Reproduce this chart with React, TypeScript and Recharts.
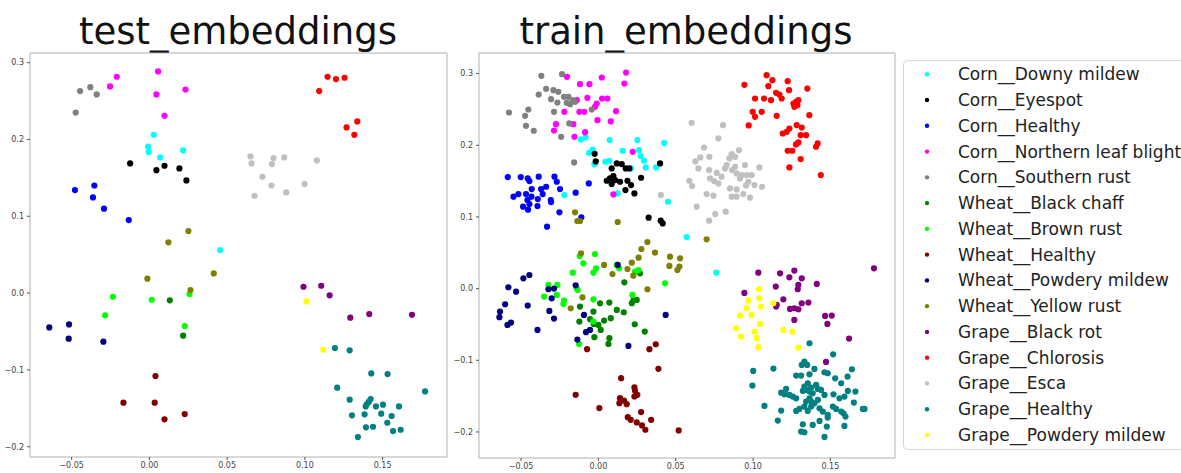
import React from 'react';
import { ScatterChart, Scatter, XAxis, YAxis, ReferenceArea } from 'recharts';

type Pt = [number, number];

const classNames = [
  'Corn__Downy mildew',
  'Corn__Eyespot',
  'Corn__Healthy',
  'Corn__Northern leaf blight',
  'Corn__Southern rust',
  'Wheat__Black chaff',
  'Wheat__Brown rust',
  'Wheat__Healthy',
  'Wheat__Powdery mildew',
  'Wheat__Yellow rust',
  'Grape__Black rot',
  'Grape__Chlorosis',
  'Grape__Esca',
  'Grape__Healthy',
  'Grape__Powdery mildew',
];

const classColors = [
  '#00ffff', '#000000', '#0000ff', '#ff00ff', '#808080',
  '#008000', '#00ff00', '#800000', '#000080', '#808000',
  '#800080', '#ff0000', '#c0c0c0', '#008080', '#ffff00',
];

const xTicks = [-0.05, 0, 0.05, 0.1, 0.15];
const yTicks = [-0.2, -0.1, 0, 0.1, 0.2, 0.3];

// ---- test embeddings ----
const testDowny: Pt[] = [[0.0028, 0.206], [-0.0009, 0.1905], [-0.0004, 0.1835], [0.0069, 0.1766], [0.0217, 0.1857], [0.0455, 0.056]];
const testEyespot: Pt[] = [[-0.0124, 0.1688], [0.0045, 0.16], [0.0097, 0.1657], [0.0193, 0.1623], [0.0238, 0.1466]];
const testCornHealthy: Pt[] = [[-0.0479, 0.134], [-0.0354, 0.14], [-0.0363, 0.1245], [-0.0292, 0.1098], [-0.0133, 0.095]];
const testBlight: Pt[] = [[-0.021, 0.2816], [-0.0253, 0.269], [0.0056, 0.2885], [0.0045, 0.2586], [0.0232, 0.265], [0.0097, 0.2308]];
const testSouthern: Pt[] = [[-0.0446, 0.263], [-0.038, 0.268], [-0.0339, 0.2586], [-0.0474, 0.235]];
const testChaff: Pt[] = [[0.0131, -0.0095], [0.0217, -0.0555]];
const testBrown: Pt[] = [[-0.0234, -0.0048], [-0.0285, -0.029], [0.0015, -0.0087], [0.0258, -0.0013], [0.0227, -0.043]];
const testWheatHealthy: Pt[] = [[0.0039, -0.108], [-0.0167, -0.1427], [0.0034, -0.1427], [0.0097, -0.1644], [0.0227, -0.1575]];
const testWheatPowdery: Pt[] = [[-0.0644, -0.0447], [-0.0517, -0.0408], [-0.0519, -0.0594], [-0.0296, -0.0633]];
const testYellowRust: Pt[] = [[0.0251, 0.0807], [0.0122, 0.066], [-0.0013, 0.0187], [0.0264, 0.0039], [0.0414, 0.0256]];
const testBlackRot: Pt[] = [[0.0991, 0.0082], [0.1105, 0.0095], [0.1159, -0.003], [0.1292, -0.0321], [0.1414, -0.0273], [0.1689, -0.0282]];
const testChlorosis: Pt[] = [[0.1092, 0.263], [0.1146, 0.2816], [0.12, 0.2785], [0.1255, 0.2803], [0.1268, 0.2156], [0.1337, 0.2234], [0.1318, 0.206]];
const testEsca: Pt[] = [[0.065, 0.1779], [0.0657, 0.1688], [0.0727, 0.1514], [0.0785, 0.14], [0.0788, 0.1679], [0.0798, 0.1757], [0.0867, 0.1766], [0.0676, 0.1267], [0.088, 0.131], [0.0998, 0.1419], [0.1077, 0.1727]];
const testGrapeHealthy: Pt[] = [[0.1193, -0.0716], [0.1288, -0.0746], [0.1427, -0.1046], [0.1532, -0.1054], [0.1208, -0.1232], [0.1773, -0.128], [0.1288, -0.1388], [0.1423, -0.138], [0.1412, -0.1414], [0.1399, -0.1445], [0.1391, -0.1475], [0.1457, -0.1475], [0.1502, -0.1453], [0.1605, -0.1475], [0.1303, -0.1592], [0.1384, -0.1579], [0.1491, -0.157], [0.1558, -0.16], [0.1393, -0.1748], [0.1438, -0.174], [0.153, -0.1688], [0.1567, -0.1796], [0.1616, -0.1779], [0.1341, -0.1874]];
const testGrapePowdery: Pt[] = [[0.1009, -0.0108], [0.1118, -0.0738]];

// ---- train embeddings ----
const trainDowny: Pt[] = [[-0.0114, 0.2081], [-0.0082, 0.2109], [0.0073, 0.2072], [0.0252, 0.2072], [0.0425, 0.203], [-0.006, 0.1895], [-0.0037, 0.1941], [-0.0026, 0.1732], [0.0045, 0.177], [0.0071, 0.1784], [0.0157, 0.1923], [0.0263, 0.1932], [0.0274, 0.1849], [0.0295, 0.1784], [0.0306, 0.1691], [0.0211, 0.1677], [0.0373, 0.1691], [-0.022, 0.1305], [0.0125, 0.1328], [0.045, 0.1212], [0.0571, 0.072], [0.0763, 0.0223]];
const trainEyespot: Pt[] = [[-0.0024, 0.1881], [-0.0017, 0.1774], [0.0086, 0.1677], [0.0119, 0.1746], [0.0151, 0.1737], [0.0177, 0.1677], [0.02, 0.1677], [0.0054, 0.1505], [0.0075, 0.1537], [0.0097, 0.157], [0.0108, 0.1514], [0.0086, 0.1458], [0.014, 0.1491], [0.0188, 0.1505], [0.0276, 0.1547], [0.0211, 0.1444], [0.0175, 0.1375], [0.0233, 0.1328], [0.0399, 0.1746], [0.0325, 0.0989], [0.0403, 0.0948], [0.0416, 0.091]];
const trainCornHealthy: Pt[] = [[-0.0586, 0.1556], [-0.0502, 0.1556], [-0.0457, 0.1537], [-0.0446, 0.15], [-0.0386, 0.1561], [-0.0284, 0.1561], [-0.0269, 0.1491], [-0.0549, 0.1282], [-0.0517, 0.1319], [-0.0468, 0.1319], [-0.0431, 0.1389], [-0.0371, 0.1389], [-0.0338, 0.1421], [-0.0248, 0.1389], [-0.0459, 0.1235], [-0.0446, 0.118], [-0.0487, 0.1143], [-0.0455, 0.1101], [-0.0394, 0.1152], [-0.0392, 0.1249], [-0.036, 0.1319], [-0.0308, 0.1235], [-0.0306, 0.1208], [-0.0252, 0.1064], [-0.0147, 0.1338], [-0.0062, 0.1468], [-0.011, 0.0994], [-0.0332, 0.0864], [-0.0433, 0.1282]];
const trainBlight: Pt[] = [[-0.0203, 0.2954], [-0.0119, 0.2852], [-0.0058, 0.2852], [0.0022, 0.2945], [0.0179, 0.3014], [0.0168, 0.2861], [-0.014, 0.2629], [-0.0071, 0.2661], [-0.0011, 0.2582], [-0.0022, 0.2536], [0.0024, 0.2652], [0.0058, 0.2652], [-0.022, 0.2466], [-0.0123, 0.2466], [-0.0091, 0.2466], [-0.0006, 0.235], [0.008, 0.2332], [0.0114, 0.2476], [-0.0274, 0.2294], [-0.0287, 0.2206], [-0.0162, 0.2294], [-0.0086, 0.2183], [-0.0155, 0.2118], [0.0222, 0.1909], [0.0097, 0.1314]];
const trainSouthern: Pt[] = [[-0.0578, 0.2457], [-0.0474, 0.2411], [-0.0453, 0.2499], [-0.0468, 0.2271], [-0.0418, 0.2202], [-0.0386, 0.2708], [-0.0369, 0.2968], [-0.0338, 0.2787], [-0.0306, 0.2643], [-0.0291, 0.2768], [-0.0287, 0.2466], [-0.0259, 0.2745], [-0.0265, 0.2596], [-0.0235, 0.2991], [-0.0241, 0.2118], [-0.0222, 0.2675], [-0.0205, 0.2592], [-0.0188, 0.2304], [-0.0183, 0.2573], [-0.0166, 0.2629], [-0.0151, 0.2606], [-0.0157, 0.176], [-0.0043, 0.2499], [-0.0194, 0.2675]];
const trainChaff: Pt[] = [[0.0168, 0.0088], [0.0269, 0.0214], [0.0248, -0.0158], [0.0226, -0.0167], [0.0216, -0.0204], [-0.0119, -0.0251], [-0.0123, -0.046], [-0.0054, -0.0427], [-0.003, -0.0492], [0, -0.0506], [-0.0032, -0.032], [0.0011, -0.0204], [0.0071, -0.0195], [0.0037, -0.0446], [0.008, -0.0413], [0.0015, -0.0576], [-0.0026, -0.0678], [0.0071, -0.0692], [0.0065, -0.0771], [0.0119, -0.0297], [0.0164, -0.033], [0.0235, -0.0497], [0.03, -0.0599]];
const trainBrown: Pt[] = [[-0.0121, 0.0455], [-0.0097, 0.0353], [-0.0022, 0.0483], [-0.0166, 0.0223], [-0.0032, 0.0223], [-0.0015, 0.0283], [0.0134, 0.0283], [0.0119, 0.033], [-0.0323, 0.0051], [-0.0265, 0.0051], [-0.0351, -0.0111], [-0.0269, -0.0088], [-0.0222, -0.0167], [-0.0226, -0.0214], [-0.014, 0.0005], [-0.0134, -0.0019], [-0.0032, -0.0149], [0.022, -0.0088], [0.0237, 0.0237], [0.0431, 0.0074], [-0.0125, -0.0771], [-0.0032, -0.046], [0.0259, 0.026]];
const trainWheatHealthy: Pt[] = [[-0.0073, -0.0845], [0.033, -0.0845], [0.0371, -0.0776], [0.0388, -0.1119], [0.0147, -0.1249], [0.0233, -0.1379], [0.0237, -0.1426], [0.0252, -0.1482], [0.0233, -0.1505], [0.014, -0.1528], [0.0166, -0.1561], [0.0136, -0.1598], [0.0183, -0.1612], [-0.0147, -0.1482], [0.0006, -0.1667], [0.0276, -0.1723], [0.019, -0.1793], [0.0209, -0.183], [0.0248, -0.1867], [0.0341, -0.183], [0.0282, -0.1909], [0.0304, -0.1969], [0.0519, -0.1979]];
const trainWheatPowdery: Pt[] = [[-0.0582, 0.0019], [-0.0532, -0.0042], [-0.0485, 0.0144], [-0.0446, 0.019], [-0.0603, -0.0218], [-0.0636, -0.032], [-0.064, -0.0399], [-0.0588, -0.0506], [-0.0565, -0.0474], [-0.0457, -0.0237], [-0.0394, -0.0576], [-0.0323, -0.0009], [-0.0302, -0.0135], [-0.0287, 0], [-0.0317, -0.0311], [-0.0287, -0.0418], [-0.0147, 0.0046], [-0.0093, -0.0367], [-0.008, -0.0608], [-0.0136, -0.0711], [-0.0054, -0.0576], [0.0125, 0.033], [0.0194, -0.0799], [0.0435, -0.0367]];
const trainYellowRust: Pt[] = [[-0.0151, 0.1064], [-0.0136, 0.0943], [-0.0119, 0.0943], [0.0125, 0.0929], [0.07, 0.0687], [0.0317, 0.065], [0.0278, 0.0553], [0.0366, 0.0502], [0.026, 0.0432], [0.0216, 0.0362], [0.0463, 0.0446], [0.0528, 0.0423], [0.0524, 0.0307], [0.0511, 0.026], [0.0459, 0.0316], [-0.0112, 0.0492], [0.0037, 0.033], [0.0091, 0.0204], [0.0226, 0.0181], [0.0317, -0.0009], [-0.0103, -0.0121], [-0.0179, -0.0274], [0.0188, 0.0274]];
const trainBlackRot: Pt[] = [[0.0944, -0.006], [0.1034, 0.0223], [0.1175, 0.0214], [0.1267, 0.0251], [0.1235, 0.0158], [0.1315, 0.0144], [0.1293, 0.0051], [0.1289, -0.0009], [0.1412, 0.0065], [0.1147, 0.0028], [0.1196, -0.0149], [0.1149, -0.0251], [0.1153, -0.0228], [0.1239, -0.0283], [0.1267, -0.0274], [0.1293, -0.0288], [0.1315, -0.0204], [0.1358, -0.0195], [0.1267, -0.0437], [0.1466, -0.0381], [0.1509, -0.0376], [0.1481, -0.0492], [0.1621, -0.0697], [0.1472, -0.1022], [0.1782, 0.0283]];
const trainChlorosis: Pt[] = [[0.0944, 0.2843], [0.1013, 0.2652], [0.1071, 0.2652], [0.1088, 0.2977], [0.1125, 0.2908], [0.1099, 0.2824], [0.1116, 0.2629], [0.1149, 0.2731], [0.117, 0.2708], [0.1185, 0.2652], [0.1224, 0.2894], [0.1233, 0.2768], [0.1261, 0.2582], [0.1278, 0.2606], [0.1293, 0.2629], [0.1287, 0.2559], [0.1267, 0.2536], [0.1351, 0.2791], [0.0998, 0.2466], [0.1056, 0.2466], [0.1153, 0.2411], [0.1364, 0.242], [0.0972, 0.2276], [0.1013, 0.2397], [0.1235, 0.2234], [0.1218, 0.2188], [0.1192, 0.2164], [0.1282, 0.2281], [0.1315, 0.2248], [0.1343, 0.2141], [0.1278, 0.2011], [0.1293, 0.2039], [0.1224, 0.1923], [0.1254, 0.1923], [0.1308, 0.1807], [0.1235, 0.1691], [0.1407, 0.1979], [0.1418, 0.2025], [0.1438, 0.1584], [0.1308, 0.2141]];
const trainEsca: Pt[] = [[0.0603, 0.2313], [0.0806, 0.228], [0.0776, 0.2095], [0.0683, 0.1969], [0.0659, 0.183], [0.0627, 0.1774], [0.0718, 0.1839], [0.0647, 0.1677], [0.0588, 0.1505], [0.0606, 0.1431], [0.0636, 0.1143], [0.07, 0.1319], [0.0744, 0.1296], [0.0756, 0.104], [0.0716, 0.0948], [0.0823, 0.1073], [0.0716, 0.1654], [0.0722, 0.1537], [0.0748, 0.15], [0.0776, 0.1468], [0.0765, 0.1616], [0.0797, 0.1561], [0.0819, 0.1677], [0.083, 0.1723], [0.0847, 0.1816], [0.0862, 0.1876], [0.0884, 0.1839], [0.0909, 0.1932], [0.0884, 0.17], [0.0864, 0.1654], [0.0894, 0.1607], [0.0927, 0.1584], [0.0948, 0.1723], [0.0959, 0.1584], [0.0991, 0.1584], [0.1041, 0.1691], [0.0851, 0.1398], [0.0894, 0.1384], [0.0955, 0.144], [0.1009, 0.1444], [0.1058, 0.1421], [0.0862, 0.1282], [0.0894, 0.1282], [0.0937, 0.1319], [0.098, 0.1268], [0.0404, 0.1307], [0.0916, 0.1537], [0.097, 0.1491]];
const trainGrapeHealthy: Pt[] = [[0.1365, -0.0762], [0.1518, -0.0916], [0.1132, -0.1116], [0.1332, -0.1018], [0.135, -0.1065], [0.1315, -0.1065], [0.1397, -0.112], [0.1279, -0.1213], [0.1311, -0.1213], [0.1365, -0.1195], [0.1462, -0.1167], [0.1483, -0.1181], [0.1531, -0.1251], [0.157, -0.132], [0.1611, -0.1227], [0.1639, -0.1125], [0.1214, -0.1399], [0.1182, -0.1451], [0.1203, -0.1474], [0.1235, -0.1483], [0.1257, -0.1506], [0.1279, -0.153], [0.1332, -0.1367], [0.1343, -0.1413], [0.1354, -0.132], [0.1376, -0.1381], [0.1408, -0.1344], [0.1419, -0.1399], [0.1322, -0.1427], [0.1365, -0.1437], [0.1386, -0.146], [0.144, -0.1413], [0.1462, -0.1483], [0.152, -0.1474], [0.1559, -0.153], [0.1591, -0.1506], [0.1613, -0.1427], [0.1662, -0.1437], [0.1365, -0.153], [0.1343, -0.1576], [0.1376, -0.1576], [0.1397, -0.1599], [0.1419, -0.1553], [0.1332, -0.1646], [0.13, -0.1678], [0.1279, -0.1706], [0.1354, -0.1706], [0.1376, -0.1646], [0.143, -0.1669], [0.1451, -0.1716], [0.1483, -0.1762], [0.1516, -0.1646], [0.1537, -0.1678], [0.157, -0.1716], [0.1585, -0.1739], [0.1598, -0.1785], [0.1483, -0.1799], [0.143, -0.1846], [0.1386, -0.1901], [0.1322, -0.1892], [0.1311, -0.1994], [0.1332, -0.2004], [0.1477, -0.1925], [0.1591, -0.1915], [0.1462, -0.2069], [0.1074, -0.1636], [0.1182, -0.1702], [0.116, -0.1841], [0.171, -0.1678], [0.1721, -0.1678], [0.1652, -0.159], [0.1001, -0.1148], [0.0996, -0.1353]];
const trainGrapePowdery: Pt[] = [[0.1039, -0.0009], [0.097, -0.0167], [0.1041, -0.0135], [0.0959, -0.0274], [0.1052, -0.0251], [0.0916, -0.0376], [0.0991, -0.0367], [0.1045, -0.0492], [0.089, -0.0553], [0.1009, -0.0599], [0.0922, -0.0669], [0.1024, -0.0692], [0.1034, -0.0817], [0.1131, -0.0204], [0.1196, -0.0576], [0.1254, -0.0599], [0.1293, -0.0822]];

const testSets = [testDowny, testEyespot, testCornHealthy, testBlight, testSouthern, testChaff, testBrown, testWheatHealthy, testWheatPowdery, testYellowRust, testBlackRot, testChlorosis, testEsca, testGrapeHealthy, testGrapePowdery];
const trainSets = [trainDowny, trainEyespot, trainCornHealthy, trainBlight, trainSouthern, trainChaff, trainBrown, trainWheatHealthy, trainWheatPowdery, trainYellowRust, trainBlackRot, trainChlorosis, trainEsca, trainGrapeHealthy, trainGrapePowdery];

const minus = (s: string) => s.replace('-', '\u2212');
const fmtX = (v: number) => minus(v.toFixed(2));
const fmtY = (v: number) => minus(v.toFixed(1));

const tickStyle = { fontSize: 8, fill: '#444', fontFamily: 'DejaVu Sans' };

const makeDot = (color: string) => (props: any) => (
  <circle cx={props.cx} cy={props.cy} r={3.1} fill={color} />
);

interface PanelProps {
  sets: Pt[][];
  xDomain: [number, number];
  yDomain: [number, number];
  left: number;
  margin: { top: number; right: number; bottom: number; left: number };
  yWidth: number;
  xHeight: number;
}

const Panel = ({ sets, xDomain, yDomain, left, margin, yWidth, xHeight }: PanelProps) => (
  <div style={{ position: 'absolute', left, top: 0 }}>
    <ScatterChart width={460} height={473} margin={margin}>
      <XAxis
        type="number"
        dataKey="x"
        domain={xDomain}
        allowDataOverflow
        ticks={xTicks}
        tickFormatter={fmtX}
        height={xHeight}
        tick={tickStyle}
        tickSize={3}
        tickMargin={2}
        axisLine={false}
        tickLine={{ stroke: '#555' }}
      />
      <YAxis
        type="number"
        dataKey="y"
        domain={yDomain}
        allowDataOverflow
        ticks={yTicks}
        tickFormatter={fmtY}
        width={yWidth}
        tick={tickStyle}
        tickSize={3}
        tickMargin={3}
        axisLine={false}
        tickLine={{ stroke: '#555' }}
      />
      <ReferenceArea
        x1={xDomain[0]}
        x2={xDomain[1]}
        y1={yDomain[0]}
        y2={yDomain[1]}
        fill="none"
        stroke="#b0b0b0"
        strokeWidth={1}
      />
      {sets.map((pts, i) => (
        <Scatter
          key={classNames[i]}
          name={classNames[i]}
          data={pts.map(([x, y]) => ({ x, y }))}
          fill={classColors[i]}
          shape={makeDot(classColors[i])}
          isAnimationActive={false}
        />
      ))}
    </ScatterChart>
  </div>
);

const Legend = () => (
  <svg width={290} height={400} style={{ position: 'absolute', left: 900, top: 55 }}>
    <rect x={3.5} y={5.5} width={300} height={389} rx={4} fill="#fff" stroke="#d6d6d6" />
    {classNames.map((n, i) => {
      const y = 19.3 + i * 25.76;
      return (
        <g key={n}>
          <circle cx={27} cy={y} r={2.2} fill={classColors[i]} />
          <text x={58} y={y} dominantBaseline="central" fontSize={17} fill="#222" fontFamily="DejaVu Sans">
            {n}
          </text>
        </g>
      );
    })}
  </svg>
);

export default function App() {
  return (
    <div style={{ position: 'fixed', left: 0, top: 0, width: 1181, height: 473, background: '#fff', overflow: 'hidden' }}>
      <svg width={1181} height={60} style={{ position: 'absolute', left: 0, top: 0 }}>
        <text x={238} y={44} textAnchor="middle" fontSize={37} fill="#111" fontFamily="DejaVu Sans">test_embeddings</text>
        <text x={686} y={44} textAnchor="middle" fontSize={37} fill="#111" fontFamily="DejaVu Sans">train_embeddings</text>
      </svg>
      <Panel
        sets={testSets}
        xDomain={[-0.0768, 0.1914]}
        yDomain={[-0.2134, 0.3125]}
        left={0}
        margin={{ top: 53, right: 13, bottom: 0, left: 0 }}
        yWidth={30}
        xHeight={16}
      />
      <Panel
        sets={trainSets}
        xDomain={[-0.0772, 0.1918]}
        yDomain={[-0.2363, 0.3287]}
        left={450}
        margin={{ top: 53, right: 15, bottom: 0, left: 0 }}
        yWidth={29}
        xHeight={15}
      />
      <Legend />
    </div>
  );
}
